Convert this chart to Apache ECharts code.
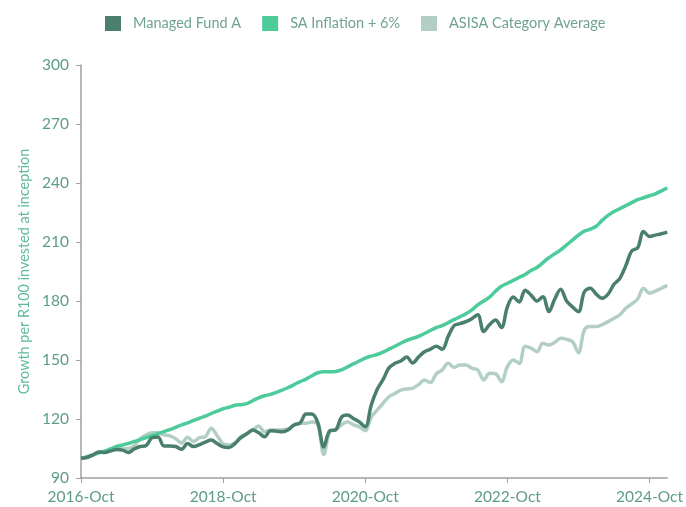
<!DOCTYPE html>
<html>
<head>
<meta charset="utf-8">
<script src="https://cdn.jsdelivr.net/npm/echarts@6/dist/echarts.min.js"></script>
<style>html,body{margin:0;padding:0;background:#fff}#c{width:686px;height:507px}</style>
</head>
<body>
<div id="c"></div>
<script>
const seriesNames = ["Managed Fund A", "SA Inflation + 6%", "ASISA Category Average"];
const monthNames = ["Jan","Feb","Mar","Apr","May","Jun","Jul","Aug","Sep","Oct","Nov","Dec"];
const startYear = 2016, startMonth = 9, monthCount = 100;
const yTicks = {min: 90, max: 300, step: 30};

const fundA = [100,100.5,101.8,103.2,103,103.8,104.5,104.2,103,104.8,106,106.5,110.5,110.8,106.3,106.3,106,104.6,107.5,106,
  107,108.3,109.3,107.5,105.8,105.5,107.5,110.5,112.5,114.4,113,111,114,113.8,113.5,114.5,117,118,122.5,122.5,
  118,105.8,114,114.5,121,122,120.3,118.5,116,127,135,140,146,148.3,149.5,151.5,148.5,151.5,154.2,155.5,
  157,155.5,162,167.5,168.5,169.5,171,173,164.5,168,170.3,166.5,177,182,179.5,185.5,183,180,182.2,174.6,
  181,186,180,177,174.6,184.7,186.5,183.5,181.4,183.5,188.5,191.5,198,205.5,207,215.3,212.8,213.5,214.2,215];

const inflation = [100,100.8,101.6,102.8,103.6,104.8,106,106.8,107.6,108.6,109.5,110.6,111.6,112.6,113.6,114.6,115.8,117,118,119.3,
  120.4,121.4,122.8,124,125.2,126,127,127.3,127.8,129.3,130.8,131.8,132.5,133.5,134.7,136,137.5,139,140.3,142,
  143.5,144,144,144.2,145,146.5,148,149.5,151,152,152.8,154,155.5,157,158.5,160,161,162,163.5,165,
  166.5,167.5,169,170.5,172,173.5,175.5,178,180,182,185,187.5,189,190.5,192,193.5,195.5,197,199.5,202,
  204,206,208.5,211,213.5,215.5,216.5,218,221,223.5,225.5,227,228.5,230,231.5,232.5,233.5,234.5,236,237.5];

const asisa = [100,100.3,101.5,103,103.3,104,105,104.8,105,106.5,110,112,113,113,112,111.4,110,107.8,110.7,108.5,
  110.5,111,115.3,111.5,107.5,106.8,108,111,112.5,114.4,116.4,113.5,114.4,114.4,114.6,115,117,117.8,117.8,118.5,
  117,102,113.5,114.5,117,118.6,117,116,114,121,124.5,128,131.3,133,134.7,135.3,135.6,137.5,139.8,138.5,
  143,145,148.3,146.3,147.5,147.5,145.8,144.9,139.8,143.2,143,139,146.6,150,148.3,157,156,154.2,158.5,157.6,
  159,161,160.5,159.3,153.7,165.3,167,167,168,169.5,171.2,173,176.3,178.5,181,186.5,184,185,186.5,188];

const categories = [];
for (let i = 0; i < monthCount; i++) {
  const m = startMonth + i;
  categories.push((startYear + Math.floor(m / 12)) + "-" + monthNames[m % 12]);
}

const colors = ["#4b7f6d", "#4ecb9b", "#b3cfc4"];
const textColor = "#5d9c85";
const chart = echarts.init(document.getElementById("c"));
chart.setOption({
  animation: false,
  color: colors,
  legend: {
    top: 11,
    left: 100,
    itemWidth: 16,
    itemHeight: 15,
    itemGap: 21,
    icon: "rect",
    textStyle: {color: "#6fa38f", fontSize: 14.5, fontFamily: "Lato", padding: [0, 0, 0, 7]},
    data: seriesNames
  },
  grid: {left: 81, right: 14, top: 65, bottom: 29, containLabel: false},
  xAxis: {
    type: "category",
    data: categories,
    boundaryGap: false,
    axisLine: {lineStyle: {color: "#a0a0a0", width: 1.5}},
    axisTick: {interval: 23, length: 5, lineStyle: {color: "#a0a0a0"}},
    axisLabel: {interval: 23, color: textColor, fontSize: 15.5, fontFamily: "Lato", margin: 11}
  },
  yAxis: {
    type: "value",
    min: yTicks.min, max: yTicks.max, interval: yTicks.step,
    name: "Growth per R100 invested at inception",
    nameLocation: "middle",
    nameGap: 48,
    nameTextStyle: {color: "#5fbb96", fontSize: 14.4, fontFamily: "Lato"},
    axisLine: {show: true, lineStyle: {color: "#a0a0a0", width: 1.5}},
    axisTick: {show: true, length: 5, lineStyle: {color: "#a0a0a0"}},
    axisLabel: {color: textColor, fontSize: 15.5, fontFamily: "Lato", margin: 12},
    splitLine: {show: false}
  },
  series: [
    {name: seriesNames[0], type: "line", data: fundA, smooth: 0.35, showSymbol: false, lineStyle: {width: 3.5}, z: 3},
    {name: seriesNames[1], type: "line", data: inflation, smooth: 0.35, showSymbol: false, lineStyle: {width: 3.5}, z: 2},
    {name: seriesNames[2], type: "line", data: asisa, smooth: 0.35, showSymbol: false, lineStyle: {width: 3.5}, z: 1}
  ]
});
</script>
</body>
</html>
